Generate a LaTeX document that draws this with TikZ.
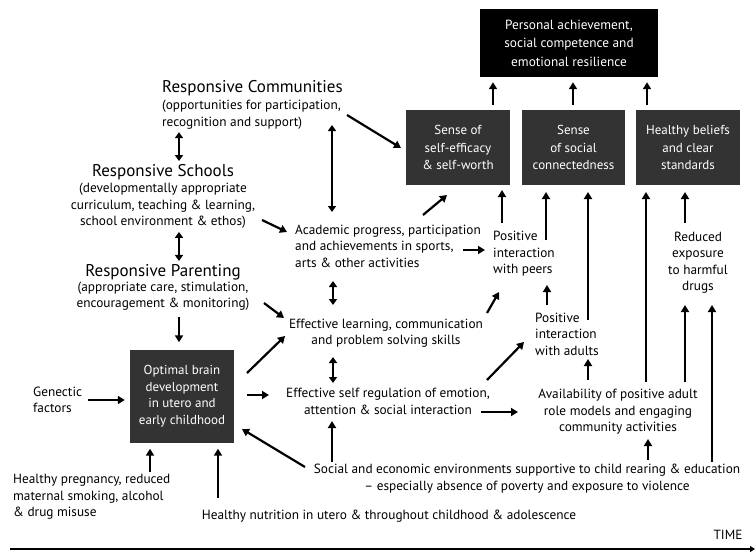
\documentclass[tikz,border=0pt]{standalone}
\usepackage{fontspec}
\setmainfont{PT Sans}
\usetikzlibrary{arrows.meta,calc}
\begin{document}
\begin{tikzpicture}[x=1pt,y=-1pt,
  txt/.style={inner sep=0pt,font=\fontsize{13.3}{16.5}\selectfont},
  ttl/.style={inner sep=0pt,font=\fontsize{17}{19}\selectfont},
  blackbox/.style={fill=black,text=white,inner sep=0pt,align=center,font=\fontsize{13.3}{18.5}\selectfont},
  darkbox/.style={fill=black!80,text=white,inner sep=0pt,align=center,font=\fontsize{13}{17.5}\selectfont},
  arr/.style={line width=2.2pt,-{Triangle[length=7pt,width=8pt]}},
  darr/.style={line width=2.2pt,{Triangle[length=6pt,width=8pt]}-{Triangle[length=6pt,width=8pt]}}
]
\useasboundingbox (0,0) rectangle (755,554);
% boxes
\node[blackbox,minimum width=178pt,minimum height=68pt] (pa) at (569,43) {Personal achievement,\\social competence and\\emotional resilience};
\node[darkbox,minimum width=104pt,minimum height=75pt] (sef) at (458,147.5) {Sense of\\self-efficacy\\\& self-worth};
\node[darkbox,minimum width=103pt,minimum height=75pt] (ssc) at (573.5,147.5) {Sense\\of social\\connectedness};
\node[darkbox,minimum width=104pt,minimum height=75pt] (hbs) at (688,147.5) {Healthy beliefs\\and clear\\standards};
\node[darkbox,minimum width=104pt,minimum height=93pt,font=\fontsize{13}{16.5}\selectfont] (brain) at (182,396) {Optimal brain\\development\\in utero and\\early childhood};
% left texts
\node[ttl,anchor=west] (comm) at (162,88) {Responsive Communities};
\node[txt,anchor=west,align=left] (comms) at (162,114.5) {(opportunities for participation,\\recognition and support)};
\node[ttl] (sch) at (163,172) {Responsive Schools};
\node[txt,align=center] (schs) at (163,206) {(developmentally appropriate\\curriculum, teaching \& learning,\\school environment \& ethos)};
\node[ttl] (par) at (163,272) {Responsive Parenting};
\node[txt,align=center] (pars) at (163,296) {(appropriate care, stimulation,\\encouragement \& monitoring)};
\node[txt,anchor=west,align=left] (gen) at (33,400) {Genectic\\factors};
\node[txt,anchor=west,align=left] (preg) at (13,497) {Healthy pregnancy, reduced\\maternal smoking, alcohol\\\& drug misuse};
\node[txt] (nutr) at (389,516.5) {Healthy nutrition in utero \& throughout childhood \& adolescence};
\node[txt,align=center] (soc) at (527,478.5) {Social and economic environments supportive to child rearing \& education\\\textendash\ especially absence of poverty and exposure to violence};
\node[txt] (time) at (728,535) {TIME};
% middle texts
\node[txt,anchor=west,align=left] (acad) at (295,246) {Academic progress, participation\\and achievements in sports,\\arts \& other activities};
\node[txt,anchor=west,align=left] (peers) at (493,254) {Positive\\interaction\\with peers};
\node[txt,align=center] (effl) at (386,333) {Effective learning, communication\\and problem solving skills};
\node[txt,align=center] (selfreg) at (388,401.5) {Effective self regulation of emotion,\\attention \& social interaction};
\node[txt,anchor=west,align=left] (adults) at (535,334) {Positive\\interaction\\with adults};
\node[txt,align=center] (avail) at (618,412) {Availability of positive adult\\role models and engaging\\community activities};
\node[txt,align=center] (red) at (698,262.5) {Reduced\\exposure\\to harmful\\drugs};
% axis
\coordinate (t0) at (10,549);
\coordinate (t1) at (755,549);
\draw[line width=2.4pt,-{Triangle[length=5pt,width=6pt]}] (t0) -- (t1);
% arrows to top box
\foreach \xx in {493,573,647}{
  \draw[arr] (sef.north -| \xx,0) ++(0,-5) -- ($(pa.south -| \xx,0)+(0,5)$);
}
% left column
\draw[darr] (comms.south -| 179,0) ++(0,3) -- ($(sch.north -| 179,0)+(0,-3)$);
\draw[darr] (schs.south -| 179,0) ++(0,3) -- ($(par.north -| 179,0)+(0,-3)$);
\draw[arr] (pars.south -| 179,0) ++(0,6) -- ($(brain.north -| 179,0)+(0,-7)$);
\draw[arr] (gen.east) ++(6,0) -- ($(brain.west |- gen.east)+(-5,0)$);
\draw[arr] (preg.north -| 150,0) ++(0,-2) -- ($(brain.south -| 150,0)+(0,6)$);
\draw[arr] (nutr.north -| 218,0) ++(0,-12) -- ($(brain.south -| 218,0)+(0,6)$);
\draw[arr] (305,467) -- (242,429);
% middle
\draw[darr] (332,125) -- (332,212);
\draw[arr] (347,115) -- (401,148);
\draw[arr] (262,220) -- (287,232);
\draw[arr] (423,215) -- (447,195);
\draw[arr] (463,250) -- (485,250);
\draw[arr] (502,223) -- (502,190);
\draw[arr] (546,240) -- (546,192);
\draw[darr] (333,281) -- (333,305);
\draw[arr] (264,303) -- (284,318);
\draw[arr] (487,313) -- (499,292);
\draw[arr] (247,373) -- (285,336);
\draw[darr] (333,357) -- (333,383);
\draw[arr] (247,395) -- (269,395);
\draw[arr] (487,380) -- (524,342);
\draw[arr] (481,412) -- (518,412);
\draw[arr] (547,305) -- (547,285);
\draw[arr] (588,380) -- (588,359);
\draw[arr] (588,320) -- (588,192);
\draw[arr] (646,382) -- (646,192);
\draw[arr] (685,223) -- (685,192);
\draw[arr] (685,382) -- (685,305);
\draw[arr] (712,462) -- (712,305);
\draw[arr] (332,462) -- (332,421);
\draw[arr] (648,460) -- (648,439);
\end{tikzpicture}
\end{document}
